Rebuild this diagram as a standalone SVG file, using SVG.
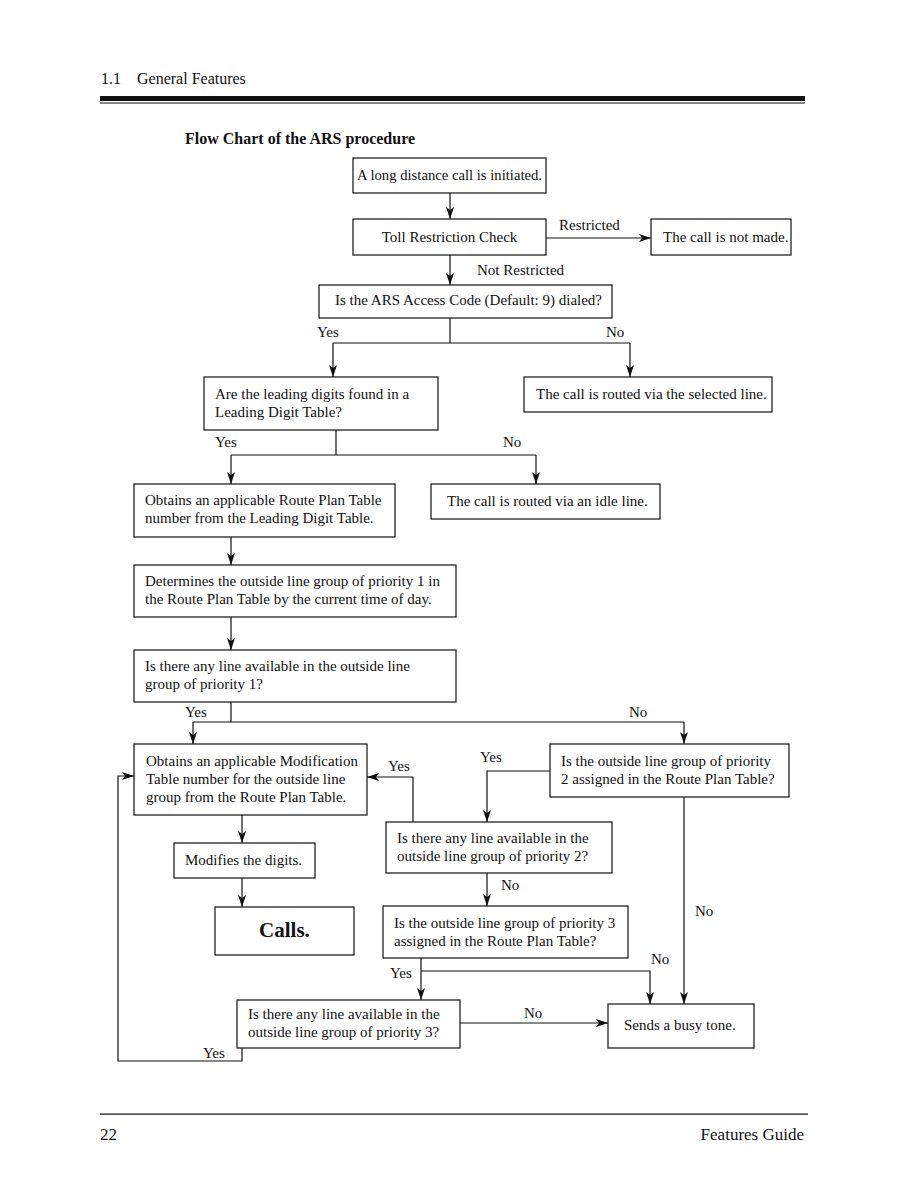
<svg xmlns="http://www.w3.org/2000/svg" width="918" height="1188" viewBox="0 0 918 1188">
<style>
  text { font-family: "Liberation Serif", "Times New Roman", serif; fill: #111; }
  .t { font-size: 15px; }
  .box { fill: #fff; stroke: #111; stroke-width: 1.2; }
  .ln { fill: none; stroke: #111; stroke-width: 1.2; }
  .ar { fill: none; stroke: #111; stroke-width: 1.2; marker-end: url(#arr); }
</style>
<defs>
  <marker id="arr" viewBox="0 0 12 8" refX="12" refY="4" markerWidth="13" markerHeight="8" markerUnits="userSpaceOnUse" orient="auto">
    <path d="M0,0 L12,4 L0,8 L3,4 z" fill="#111"/>
  </marker>
</defs>
<rect width="918" height="1188" fill="#fff"/>

<g id="header">
  <text x="101" y="84" font-size="16">1.1</text>
  <text x="137" y="84" font-size="16">General Features</text>
  <rect x="100" y="96" width="705" height="5" fill="#111"/>
  <rect x="100" y="102.5" width="705" height="1" fill="#111"/>
  <text x="185" y="144" font-size="16" font-weight="bold">Flow Chart of the ARS procedure</text>
</g>

<g id="connectors">
  <path class="ar" d="M450,193 V219"/>
  <path class="ar" d="M546,238 H651"/>
  <path class="ar" d="M450,255 V285"/>
  <path class="ln" d="M450,318 V343 M333,343 H630"/>
  <path class="ar" d="M333,343 V377"/>
  <path class="ar" d="M630,343 V377"/>
  <path class="ln" d="M336,430 V455 M231,455 H536"/>
  <path class="ar" d="M231,455 V484"/>
  <path class="ar" d="M536,455 V484"/>
  <path class="ar" d="M231,537 V565"/>
  <path class="ar" d="M231,617 V650"/>
  <path class="ln" d="M231,702 V722 M193,722 H684"/>
  <path class="ar" d="M193,722 V744"/>
  <path class="ar" d="M684,722 V744"/>
  <path class="ar" d="M413,822 V777 H367"/>
  <path class="ar" d="M550,771 H487 V822"/>
  <path class="ar" d="M684,797 V1004"/>
  <path class="ar" d="M487,873 V906"/>
  <path class="ar" d="M421,958 V1000"/>
  <path class="ar" d="M421,971 H650 V1004"/>
  <path class="ar" d="M460,1023 H608"/>
  <path class="ar" d="M242,1048 V1061 H118 V776 H134"/>
  <path class="ar" d="M242,815 V843"/>
  <path class="ar" d="M242,878 V907"/>
  <text class="t" x="559" y="230">Restricted</text>
  <text class="t" x="477" y="275">Not Restricted</text>
  <text class="t" x="317" y="337">Yes</text>
  <text class="t" x="606" y="337">No</text>
  <text class="t" x="215" y="447">Yes</text>
  <text class="t" x="503" y="447">No</text>
  <text class="t" x="185" y="717">Yes</text>
  <text class="t" x="629" y="717">No</text>
  <text class="t" x="388" y="771">Yes</text>
  <text class="t" x="480" y="762">Yes</text>
  <text class="t" x="501" y="890">No</text>
  <text class="t" x="695" y="916">No</text>
  <text class="t" x="651" y="964">No</text>
  <text class="t" x="390" y="978">Yes</text>
  <text class="t" x="524" y="1018">No</text>
  <text class="t" x="203" y="1058">Yes</text>
</g>

<g id="n1">
  <rect class="box" x="353" y="158" width="193" height="35"/>
  <text class="t" x="357" y="180" textLength="185" lengthAdjust="spacingAndGlyphs">A long distance call is initiated.</text>
</g>
<g id="n2">
  <rect class="box" x="353" y="219" width="193" height="36"/>
  <text class="t" x="449.5" y="242" text-anchor="middle">Toll Restriction Check</text>
</g>
<g id="n3">
  <rect class="box" x="651" y="219" width="140" height="36"/>
  <text class="t" x="663" y="242">The call is not made.</text>
</g>
<g id="n4">
  <rect class="box" x="319" y="285" width="293" height="33"/>
  <text class="t" x="335" y="305">Is the ARS Access Code (Default: 9) dialed?</text>
</g>
<g id="n5">
  <rect class="box" x="204" y="377" width="234" height="53"/>
  <text class="t" x="215" y="399">Are the leading digits found in a</text>
  <text class="t" x="215" y="417">Leading Digit Table?</text>
</g>
<g id="n6">
  <rect class="box" x="524" y="377" width="248" height="35"/>
  <text class="t" x="536" y="399">The call is routed via the selected line.</text>
</g>
<g id="n7">
  <rect class="box" x="134" y="484" width="261" height="53"/>
  <text class="t" x="145" y="505">Obtains an applicable Route Plan Table</text>
  <text class="t" x="145" y="523">number from the Leading Digit Table.</text>
</g>
<g id="n8">
  <rect class="box" x="431" y="484" width="229" height="35"/>
  <text class="t" x="447" y="506">The call is routed via an idle line.</text>
</g>
<g id="n9">
  <rect class="box" x="134" y="565" width="322" height="52"/>
  <text class="t" x="145" y="586">Determines the outside line group of priority 1 in</text>
  <text class="t" x="145" y="604">the Route Plan Table by the current time of day.</text>
</g>
<g id="n10">
  <rect class="box" x="134" y="650" width="322" height="52"/>
  <text class="t" x="145" y="671">Is there any line available in the outside line</text>
  <text class="t" x="145" y="689">group of priority 1?</text>
</g>
<g id="n11">
  <rect class="box" x="134" y="744" width="233" height="71"/>
  <text class="t" x="146" y="766">Obtains an applicable Modification</text>
  <text class="t" x="146" y="784">Table number for the outside line</text>
  <text class="t" x="146" y="802">group from the Route Plan Table.</text>
</g>
<g id="n12">
  <rect class="box" x="550" y="744" width="239" height="53"/>
  <text class="t" x="561" y="766">Is the outside line group of priority</text>
  <text class="t" x="561" y="784">2 assigned in the Route Plan Table?</text>
</g>
<g id="n13">
  <rect class="box" x="386" y="822" width="226" height="51"/>
  <text class="t" x="397" y="843">Is there any line available in the</text>
  <text class="t" x="397" y="861">outside line group of priority 2?</text>
</g>
<g id="n14">
  <rect class="box" x="383" y="906" width="245" height="52"/>
  <text class="t" x="394" y="928">Is the outside line group of priority 3</text>
  <text class="t" x="394" y="946">assigned in the Route Plan Table?</text>
</g>
<g id="n15">
  <rect class="box" x="237" y="1000" width="223" height="48"/>
  <text class="t" x="248" y="1019">Is there any line available in the</text>
  <text class="t" x="248" y="1037">outside line group of priority 3?</text>
</g>
<g id="n16">
  <rect class="box" x="608" y="1004" width="146" height="44"/>
  <text class="t" x="624" y="1030">Sends a busy tone.</text>
</g>
<g id="n17">
  <rect class="box" x="174" y="843" width="141" height="35"/>
  <text class="t" x="185" y="865">Modifies the digits.</text>
</g>
<g id="n18">
  <rect class="box" x="215" y="907" width="139" height="48"/>
  <text x="284.5" y="937" font-size="21" font-weight="bold" text-anchor="middle">Calls.</text>
</g>

<g id="footer">
  <rect x="100" y="1113.5" width="708" height="1.2" fill="#111"/>
  <text x="100" y="1140" font-size="17">22</text>
  <text x="804" y="1140" font-size="17" text-anchor="end">Features Guide</text>
</g>
</svg>
